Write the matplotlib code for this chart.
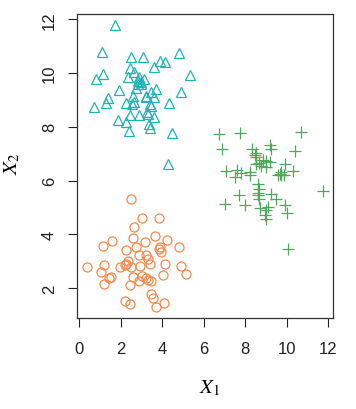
import numpy as np
import matplotlib
matplotlib.use("Agg")
import matplotlib.pyplot as plt

plt.rcParams['font.family'] = ['Liberation Sans', 'DejaVu Sans']
plt.rcParams['mathtext.fontset'] = 'stix'

# cluster 1: triangles
tri_x = [1.72, 1.12, 2.49, 3.08, 4.80, 3.90, 4.16, 3.61, 2.44, 2.65, 1.16, 0.83,
         2.36, 5.36, 2.89, 3.11, 3.00, 2.84, 2.76, 1.93, 3.72, 4.93, 2.60, 3.48,
         3.24, 3.59, 1.40, 1.32, 2.28, 2.55, 3.48, 4.32, 0.72, 3.32, 2.44, 2.89,
         3.59, 1.88, 2.28, 3.35, 3.40, 2.39, 4.48, 4.28, 2.84, 3.00, 3.21, 3.43,
         3.27, 2.63]
tri_y = [11.79, 10.80, 10.59, 10.59, 10.74, 10.46, 10.40, 10.24, 10.19, 10.03, 9.97, 9.78,
         9.84, 9.91, 9.84, 9.78, 9.66, 9.60, 9.43, 9.38, 9.41, 9.29, 9.16, 9.29,
         9.10, 9.10, 9.06, 8.89, 8.89, 8.85, 8.77, 8.88, 8.72, 8.48, 8.42, 8.42,
         8.36, 8.27, 8.17, 8.11, 7.96, 7.84, 7.76, 6.60, 9.72, 9.60, 9.14, 8.85,
         8.54, 8.94]

# cluster 2: circles
circ_x = [2.49, 3.05, 3.85, 2.66, 3.64, 2.60, 4.24, 1.60, 1.16, 3.16, 2.76, 3.91,
          4.80, 2.25, 3.85, 3.96, 2.87, 3.24, 3.32, 3.40, 2.34, 2.28, 2.20, 1.99,
          2.49, 2.92, 4.16, 0.39, 1.19, 4.93, 1.05, 5.17, 4.04, 1.56, 1.44, 2.60,
          3.05, 3.24, 3.34, 3.48, 2.89, 1.19, 2.44, 3.48, 3.56, 2.23, 2.47, 4.07,
          3.72]
circ_y = [5.32, 4.61, 4.61, 4.27, 3.92, 3.86, 3.77, 3.75, 3.57, 3.71, 3.52, 3.52,
          3.51, 3.40, 3.44, 3.34, 3.24, 3.24, 3.09, 2.90, 3.02, 2.90, 2.84, 2.78,
          2.78, 2.81, 2.90, 2.77, 2.84, 2.81, 2.58, 2.52, 2.50, 2.40, 2.37, 2.40,
          2.45, 2.37, 2.29, 2.26, 2.26, 2.14, 2.12, 1.79, 1.64, 1.50, 1.41, 1.44,
          1.28]

# cluster 3: plus signs
plus_x = [6.72, 7.77, 10.70, 6.89, 8.34, 9.21, 9.26, 10.38, 8.51, 8.51, 8.87, 9.02,
          8.67, 9.19, 9.90, 8.51, 9.02, 7.09, 7.60, 7.81, 8.24, 8.24, 7.53, 9.66,
          9.74, 10.30, 9.58, 9.85, 11.74, 8.61, 8.67, 7.70, 8.61, 9.26, 8.67, 9.47,
          7.01, 8.01, 9.93, 9.10, 8.70, 10.03, 9.02, 8.94, 9.02, 10.06, 8.45, 8.75,
          9.70, 8.60]
plus_y = [7.74, 7.77, 7.80, 7.16, 7.16, 7.34, 7.16, 7.09, 7.04, 6.87, 6.75, 6.72,
          6.65, 6.68, 6.60, 6.60, 6.50, 6.37, 6.41, 6.29, 6.31, 6.19, 6.13, 6.25,
          6.31, 6.37, 6.19, 6.19, 5.61, 5.88, 5.69, 5.47, 5.47, 5.48, 5.32, 5.32,
          5.14, 5.10, 5.10, 5.01, 4.97, 4.80, 4.89, 4.70, 4.58, 3.46, 6.95, 6.55,
          6.20, 5.55]

fig = plt.figure(figsize=(3.56, 4.10), dpi=100)
ax = fig.add_axes([0.216, 0.222, 0.719, 0.741])

ax.plot(tri_x, tri_y, '^', ms=7.5, mfc='none', mec='#1fb3b3', mew=0.9, ls='none')
ax.plot(circ_x, circ_y, 'o', ms=6.5, mfc='none', mec='#f28a4b', mew=0.9, ls='none')
ax.plot(plus_x, plus_y, '+', ms=8.5, mec='#4fa85c', mew=0.9, ls='none')

ax.set_xlim(-0.1, 12.22)
ax.set_ylim(0.885, 12.19)
ax.set_xticks([0, 2, 4, 6, 8, 10, 12])
ax.set_yticks([2, 4, 6, 8, 10, 12])
ax.tick_params(direction='out', length=6.5, width=0.8, labelsize=12, colors='#222222')
ax.tick_params(axis='x', pad=10)
ax.tick_params(axis='y', pad=8)
for lab in ax.get_yticklabels():
    lab.set_rotation(90)
    lab.set_va('center')
for s in ax.spines.values():
    s.set_color('#333333')
    s.set_linewidth(0.9)

fig.text(0.588, 0.053, r'$X_1$', fontsize=15, ha='center', va='center')
fig.text(0.035, 0.60, r'$X_2$', fontsize=15, ha='center', va='center', rotation=90)

fig.savefig('out.png', dpi=100)
